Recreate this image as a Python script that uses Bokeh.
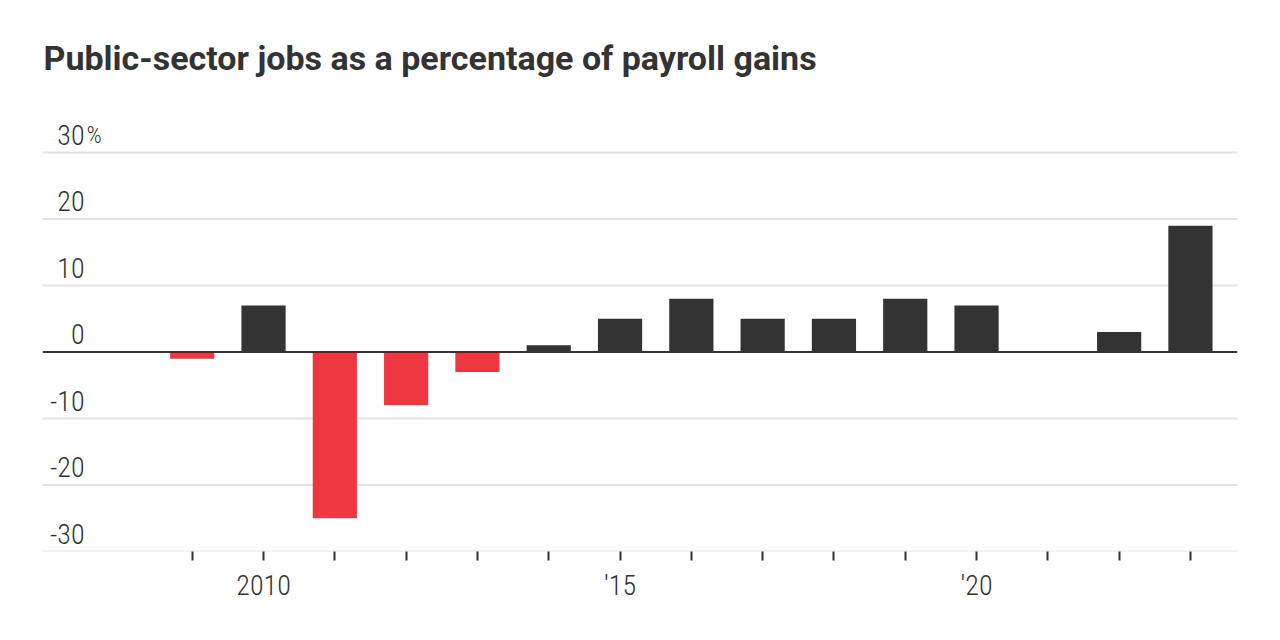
from bokeh.plotting import figure
from bokeh.models import FixedTicker, Label, Span, Range1d
from bokeh.core.properties import value
from bokeh.embed import file_html
from bokeh.resources import INLINE

years = [2009, 2010, 2011, 2012, 2013, 2014, 2015, 2016, 2017, 2018, 2019, 2020, 2021, 2022, 2023]
values = [-1, 7, -25, -8, -3, 1, 5, 8, 5, 5, 8, 7, 0, 3, 19]
y_ticks = [30, 20, 10, 0, -10, -20, -30]
x_tick_labels = {2010: "2010", 2015: "\u203215", 2020: "\u203220"}
title_text = "Public-sector jobs as a percentage of payroll gains"

DARK = "#333333"
RED = "#ee3741"
GRID = "#e3e3e3"
TICK_FONT = "'Roboto Condensed Light', 'Roboto Condensed'"
TITLE_FONT = "Roboto"

colors = [RED if v < 0 else DARK for v in values]

# frame spans from the top of the canvas down to the -30 gridline so labels are not clipped
p = figure(width=1264, height=624, output_backend="svg", toolbar_location=None,
           x_range=Range1d(2006.9, 2023.66), y_range=Range1d(-30, 52.86),
           min_border_left=42, min_border_right=27, min_border_top=0, min_border_bottom=73)
p.outline_line_color = None
p.background_fill_color = "white"
p.border_fill_color = "white"
p.xgrid.visible = False
p.ygrid.visible = False
p.yaxis.visible = False

for t in y_ticks:
    if t == 0:
        continue
    p.add_layout(Span(location=t, dimension="width", line_color=GRID, line_width=2, level="underlay"))

p.vbar(x=years, top=values, bottom=0, width=0.62, fill_color=colors, line_color=None)

p.add_layout(Span(location=0, dimension="width", line_color=DARK, line_width=2))

ax = p.xaxis[0]
ax.ticker = FixedTicker(ticks=years)
ax.major_label_overrides = {y: x_tick_labels.get(y, "") for y in years}
ax.axis_line_color = None
ax.major_tick_in = 0
ax.major_tick_out = 9
ax.major_tick_line_color = DARK
ax.major_tick_line_width = 2
ax.minor_tick_line_color = None
ax.major_label_text_font = TICK_FONT
ax.major_label_text_font_size = "28px"
ax.major_label_text_color = DARK
ax.major_label_standoff = 8

for t in y_ticks:
    p.add_layout(Label(x=42, x_units="screen", y=t, y_units="data", y_offset=18,
                       text=str(t), text_align="right", text_baseline="middle",
                       text_font=TICK_FONT, text_font_size="28px", text_color=DARK))
    if t == max(y_ticks):
        p.add_layout(Label(x=44, x_units="screen", y=t, y_units="data", y_offset=18,
                           text="%", text_align="left", text_baseline="middle",
                           text_font=TICK_FONT, text_font_size="24px", text_color=DARK))

p.add_layout(Label(x=1, x_units="screen", y=494, y_units="screen",
                   text=title_text, text_align="left", text_baseline="middle",
                   text_font=TITLE_FONT, text_font_style="bold", text_font_size="34px",
                   text_color=DARK))

open("out.html", "w").write(file_html(p, INLINE))
